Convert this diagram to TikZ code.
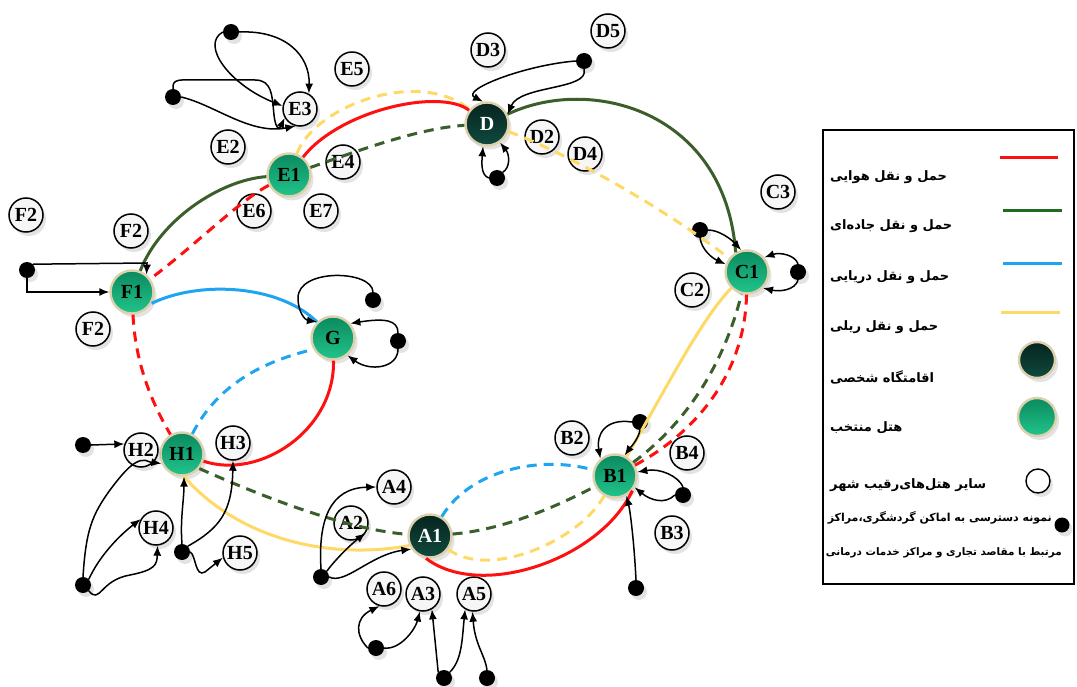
\documentclass[tikz,border=0pt]{standalone}
\usepackage{fontspec}
\setmainfont{Liberation Serif}
\newfontfamily\fa[Script=Arabic]{DejaVu Sans}
\TeXXeTstate=1
\usetikzlibrary{shadows,arrows.meta}
\definecolor{air}{HTML}{FF1010}
\definecolor{road}{HTML}{3B5E2B}
\definecolor{roadleg}{HTML}{1F6B1F}
\definecolor{sea}{HTML}{1EA5F2}
\definecolor{rail}{HTML}{FFD966}
\definecolor{hotA}{HTML}{0A8A5E}
\definecolor{hotB}{HTML}{22C48C}
\definecolor{resA}{HTML}{06241F}
\definecolor{resB}{HTML}{0F4A3E}
\definecolor{ring}{HTML}{DDD0AC}
\definecolor{rivfill}{HTML}{F6F6F6}
\begin{document}
\begin{tikzpicture}[x=1pt,y=-1pt,
  lbl/.style={font=\bfseries\fontsize{20}{20}\selectfont},
  shd/.style={drop shadow={opacity=0.22,shadow xshift=3pt,shadow yshift=-4pt}},
  hotel/.style={circle, minimum size=43pt, inner sep=0pt, draw=ring, line width=2.4pt, top color=hotA, bottom color=hotB, shd, lbl},
  resid/.style={hotel, top color=resA, bottom color=resB, text=white},
  rival/.style={circle, minimum size=34pt, inner sep=0pt, draw=black, line width=1.5pt, fill=rivfill, shd, lbl},
  bdot/.style={circle, minimum size=16pt, inner sep=0pt, fill=black, shd},
  acc/.style={-{Latex[length=10pt,width=8pt]}, line width=1.5pt},
  tline/.style={line width=3pt},
  dsh/.style={dash pattern=on 10pt off 7pt},
  leg/.style={inner sep=0pt, font=\fa\bfseries\fontsize{13}{15}\selectfont},
  legs/.style={inner sep=0pt, font=\fa\bfseries\fontsize{11}{13}\selectfont},
]
\useasboundingbox (0,0) rectangle (1077,687);

% main nodes
\node[hotel] (E1) at (289,175) {E1};
\node[resid] (D)  at (487,124) {D};
\node[hotel] (C1) at (747,272) {C1};
\node[hotel] (F1) at (132,292) {F1};
\node[hotel] (G)  at (333,338) {G};
\node[hotel] (H1) at (182,454) {H1};
\node[resid] (A1) at (430,536) {A1};
\node[hotel] (B1) at (615,476) {B1};

% rival hotels
\node[rival] (E3) at (300,109) {E3};
\node[rival] (E5) at (352,69) {E5};
\node[rival] (E2) at (228,147) {E2};
\node[rival] (E4) at (343,162) {E4};
\node[rival] (E6) at (254,211) {E6};
\node[rival] (E7) at (321,211) {E7};
\node[rival] (F2a) at (26,215) {F2};
\node[rival] (F2b) at (131,231) {F2};
\node[rival] (F2c) at (93,329) {F2};
\node[rival] (D3) at (488,50) {D3};
\node[rival] (D5) at (608,31) {D5};
\node[rival] (D2) at (542,137) {D2};
\node[rival] (D4) at (585,154) {D4};
\node[rival] (C3) at (778,192) {C3};
\node[rival] (C2) at (692,290) {C2};
\node[rival] (B2) at (572,438) {B2};
\node[rival] (B4) at (687,453) {B4};
\node[rival] (B3) at (672,533) {B3};
\node[rival] (A4) at (394,487) {A4};
\node[rival] (A2) at (351,523) {A2};
\node[rival] (A6) at (384,589) {A6};
\node[rival] (A3) at (423,594) {A3};
\node[rival] (A5) at (474,594) {A5};
\node[rival] (H2) at (141,450) {H2};
\node[rival] (H3) at (233,443) {H3};
\node[rival] (H4) at (156,528) {H4};
\node[rival] (H5) at (240,553) {H5};

% access points
\node[bdot] (e1d) at (231,32) {};
\node[bdot] (e2d) at (173,97) {};
\node[bdot] (fd)  at (27,270) {};
\node[bdot] (gA)  at (373,300) {};
\node[bdot] (gB)  at (398,341) {};
\node[bdot] (dA)  at (497,178) {};
\node[bdot] (dB)  at (584,61) {};
\node[bdot] (cA)  at (700,230) {};
\node[bdot] (cB)  at (798,272) {};
\node[bdot] (bA)  at (640,422) {};
\node[bdot] (bB)  at (683,495) {};
\node[bdot] (bC)  at (636,588) {};
\node[bdot] (aA)  at (321,577) {};
\node[bdot] (aB)  at (376,648) {};
\node[bdot] (aC)  at (444,678) {};
\node[bdot] (aD)  at (487,678) {};
\node[bdot] (hA)  at (83,445) {};
\node[bdot] (hB)  at (83,585) {};
\node[bdot] (hC)  at (182,552) {};

% transport links
\draw[tline, rail, dsh] (E1) .. controls (315,105) and (420,68) .. (D);
\draw[tline, air] (E1) .. controls (340,110) and (440,88) .. (D);
\draw[tline, road, dsh] (E1) .. controls (360,150) and (420,128) .. (D);
\draw[tline, road] (D) .. controls (590,75) and (725,110) .. (C1.120);
\draw[tline, rail, dsh] (D) .. controls (560,150) and (660,205) .. (C1);
\draw[tline, road] (E1) .. controls (220,180) and (160,220) .. (F1);
\draw[tline, air, dsh] (E1) .. controls (240,200) and (190,250) .. (F1);
\draw[tline, sea] (F1.-30) .. controls (200,280) and (280,285) .. (G);
\draw[tline, air, dsh] (F1) .. controls (135,360) and (150,400) .. (H1);
\draw[tline, sea, dsh] (H1) .. controls (220,380) and (270,360) .. (G.-150);
\draw[tline, air] (H1) .. controls (260,480) and (335,430) .. (G);
\draw[tline, road, dsh] (H1.-40) .. controls (270,500) and (350,530) .. (A1);
\draw[tline, rail] (H1.-85) .. controls (240,540) and (330,560) .. (A1.205);
\draw[tline, sea, dsh] (A1) .. controls (470,470) and (540,455) .. (B1);
\draw[tline, road, dsh] (A1) .. controls (500,530) and (550,510) .. (B1);
\draw[tline, rail, dsh] (A1) .. controls (490,580) and (580,540) .. (B1);
\draw[tline, air] (A1.-100) .. controls (480,600) and (600,560) .. (B1.-40);
\draw[tline, rail] (B1) .. controls (660,400) and (700,320) .. (C1);
\draw[tline, road, dsh] (B1) .. controls (690,420) and (725,360) .. (C1);
\draw[tline, air, dsh] (B1) .. controls (700,430) and (745,370) .. (C1);

% access arrows
\draw[acc] (e1d.east) .. controls (285,30) and (310,55) .. (E3.60);
\draw[acc] (e1d.west) .. controls (200,45) and (230,85) .. (E3.170);
\draw[acc] (e2d.north) .. controls (172,78) and (180,80) .. (200,80) -- (255,80) .. controls (272,80) and (272,95) .. (274,115) .. controls (276,132) and (280,128) .. (E3.-150);
\draw[acc] (e2d.east) .. controls (215,105) and (250,135) .. (E3.-105);
\draw[acc] (fd.north east) -- (147,263) -- (F1.50);
\draw[acc] (fd.south) |- (F1.west);
\draw[acc] (gA.north) .. controls (372,270) and (298,268) .. (298,298) .. controls (298,312) and (305,320) .. (G.135);
\draw[acc] (gB.north) .. controls (398,320) and (385,318) .. (G.40);
\draw[acc] (gB.south) .. controls (398,368) and (370,372) .. (G.-50);
\draw[acc] (dA.west) .. controls (480,175) and (482,160) .. (D.-100);
\draw[acc] (dA.north east) .. controls (510,168) and (510,155) .. (D.-55);
\draw[acc] (dB.west) .. controls (525,65) and (460,90) .. (D.100);
\draw[acc] (dB.south) .. controls (590,90) and (520,85) .. (D.25);
\draw[acc] (cA.east) .. controls (718,230) and (730,238) .. (C1.105);
\draw[acc] (cA.south) .. controls (702,250) and (712,258) .. (C1.160);
\draw[acc] (cB.north) .. controls (795,255) and (780,252) .. (C1.40);
\draw[acc] (cB.south) .. controls (795,290) and (780,292) .. (C1.-45);
\draw[acc] (bA.west) .. controls (605,418) and (596,435) .. (B1.130);
\draw[acc] (bA.south) .. controls (638,440) and (630,448) .. (B1.65);
\draw[acc] (bB.north) .. controls (678,476) and (660,468) .. (B1.10);
\draw[acc] (bB.west) .. controls (665,505) and (650,500) .. (B1.-30);
\draw[acc] (bC.north) .. controls (634,540) and (630,510) .. (B1.-60);
\draw[acc] (aA.north) .. controls (318,520) and (330,488) .. (A4.west);
\draw[acc] (aA.north east) .. controls (335,560) and (350,545) .. (A2.-35);
\draw[acc] (aA.east) .. controls (345,585) and (370,555) .. (A1.215);
\draw[acc] (aB.west) .. controls (355,635) and (355,618) .. (A6.-105);
\draw[acc] (aB.east) .. controls (400,650) and (415,630) .. (A3.-100);
\draw[acc] (aC.north west) .. controls (436,650) and (434,630) .. (A3.-60);
\draw[acc] (aC.north east) .. controls (462,660) and (462,640) .. (A5.-120);
\draw[acc] (aD.north) .. controls (485,655) and (475,645) .. (A5.-95);
\draw[acc] (hA.east) -- (H2.160);
\draw[acc] (hB.north) .. controls (86,530) and (92,515) .. (110,490) .. controls (125,470) and (138,455) .. (150,462) -- (H1.205);
\draw[acc] (hB.north east) .. controls (100,555) and (120,535) .. (H4.150);
\draw[acc] (hB.south east) .. controls (100,605) and (100,580) .. (130,575) .. controls (155,570) and (157,565) .. (H4.-85);
\draw[acc] (hC.north) .. controls (180,520) and (184,500) .. (H1.-85);
\draw[acc] (hC.north east) .. controls (220,528) and (232,512) .. (H3.-90);
\draw[acc] (hC.east) .. controls (196,555) and (195,578) .. (205,572) -- (H5.195);

% legend
\draw[line width=1.3pt] (823,130) rectangle (1074,584);
\draw[tline, air] (1000,158) -- (1058,158);
\draw[tline, roadleg] (1003,211) -- (1062,211);
\draw[tline, sea] (1003,264) -- (1062,264);
\draw[tline, rail] (1001,313) -- (1060,313);
\node[resid, minimum size=36pt] (lr) at (1037,360) {};
\node[hotel, minimum size=38pt] (lh) at (1037,417) {};
\node[circle, draw=black, line width=1.4pt, fill=white, minimum size=24pt, inner sep=0pt, shd] (lw) at (1038,481) {};
\node[bdot, minimum size=15pt] (ld) at (1062,525) {};
\node[leg, anchor=west] (t1) at (830,177) {\beginR حمل و نقل هوایی\endR};
\node[leg, anchor=west] (t2) at (830,226) {\beginR حمل و نقل جاده‌ای\endR};
\node[leg, anchor=west] (t3) at (830,277) {\beginR حمل و نقل دریایی\endR};
\node[leg, anchor=west] (t4) at (830,327) {\beginR حمل و نقل ریلی\endR};
\node[leg, anchor=west] (t5) at (830,377) {\beginR اقامتگاه شخصی\endR};
\node[leg, anchor=west] (t6) at (830,428) {\beginR هتل منتخب\endR};
\node[leg, anchor=west] (t7) at (830,485) {\beginR سایر هتل‌های‌رقیب شهر\endR};
\node[legs, anchor=east] (t8) at (1052,518) {\beginR نمونه دسترسی به اماکن گردشگری،مراکز\endR};
\node[legs, anchor=east, font=\fa\bfseries\fontsize{10.4}{13}\selectfont] (t9) at (1062,553) {\beginR مرتبط با مقاصد تجاری و مراکز خدمات درمانی\endR};
\end{tikzpicture}
\end{document}
